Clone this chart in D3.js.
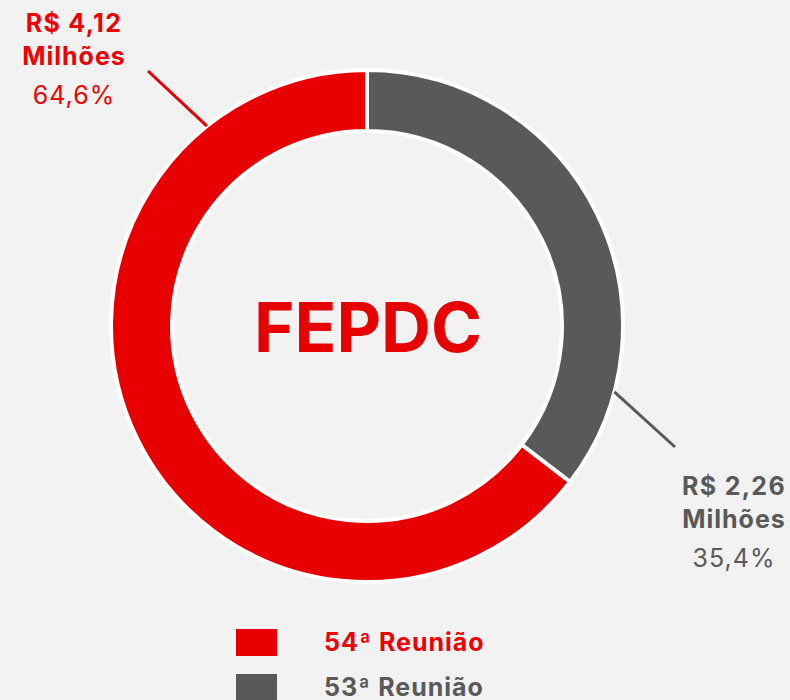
<!DOCTYPE html>
<html>
<head>
<meta charset="utf-8">
<script src="https://cdn.jsdelivr.net/npm/d3@7"></script>
<style>
  body { margin: 0; background: #f2f2f2; }
  svg { display: block; font-family: Inter, Roboto, "Noto Sans", sans-serif; }
</style>
</head>
<body>
<svg id="chart" width="790" height="700"></svg>
<script>
// slices in drawing order (clockwise from 12 o'clock)
const meetings = ["53ª Reunião", "54ª Reunião"];
const amounts  = [2.26, 4.12];          // R$ milhões
const shares   = ["35,4%", "64,6%"];
const amountLabels = ["R$ 2,26", "R$ 4,12"];
const legendOrder  = ["54ª Reunião", "53ª Reunião"];
const centerTitle  = "FEPDC";

const colors = d3.scaleOrdinal()
  .domain(meetings)
  .range(["#595959", "#e80000"]);
const textColors = d3.scaleOrdinal()
  .domain(meetings)
  .range(["#595959", "#f00000"]);

const cx = 367, cy = 326;
const outerR = 256, innerR = 195;

const svg = d3.select("#chart");
const g = svg.append("g").attr("transform", `translate(${cx},${cy})`);

const data = meetings.map((m, i) => ({ meeting: m, value: amounts[i], share: shares[i], label: amountLabels[i] }));

const pie = d3.pie().sort(null).value(d => d.value);
const arc = d3.arc().innerRadius(innerR).outerRadius(outerR);
const arcs = pie(data);

g.selectAll("path.slice")
  .data(arcs)
  .join("path")
    .attr("class", "slice")
    .attr("d", arc)
    .attr("fill", d => colors(d.data.meeting))
    .attr("stroke", "#ffffff")
    .attr("stroke-width", 4);

// centre title
g.append("text")
  .attr("x", 1).attr("y", 26)
  .attr("text-anchor", "middle")
  .attr("font-size", 69)
  .attr("font-weight", "bold")
  .attr("fill", "#e60000")
  .text(centerTitle);

// leader lines + labels (angle on the ring, outer end, label anchor)
const callouts = {
  "53ª Reunião": { angle: 104.9, end: [675 - cx, 447 - cy], text: [734 - cx, 495 - cy] },
  "54ª Reunião": { angle: 321.3, end: [148 - cx, 71 - cy],  text: [74 - cx, 32 - cy] }
};

arcs.forEach(a => {
  const c = callouts[a.data.meeting];
  const t = c.angle * Math.PI / 180;
  const x0 = outerR * Math.sin(t), y0 = -outerR * Math.cos(t);
  const col = textColors(a.data.meeting);

  g.append("line")
    .attr("x1", x0).attr("y1", y0)
    .attr("x2", c.end[0]).attr("y2", c.end[1])
    .attr("stroke", colors(a.data.meeting))
    .attr("stroke-width", 3);

  const lab = g.append("text")
    .attr("text-anchor", "middle")
    .attr("fill", col)
    .attr("font-size", 25);
  lab.append("tspan").attr("x", c.text[0]).attr("y", c.text[1])
    .attr("font-weight", "bold").attr("letter-spacing", 1.3).text(a.data.label);
  lab.append("tspan").attr("x", c.text[0]).attr("y", c.text[1] + 33)
    .attr("font-weight", "bold").attr("letter-spacing", 1).text("Milhões");
  lab.append("tspan").attr("x", c.text[0]).attr("y", c.text[1] + 72)
    .attr("letter-spacing", 1).text(a.data.share);
});

// legend
const legend = svg.append("g").attr("transform", "translate(236,629)");
const item = legend.selectAll("g")
  .data(legendOrder)
  .join("g")
    .attr("transform", (d, i) => `translate(0,${i * 45})`);
item.append("rect")
  .attr("width", 41).attr("height", 27)
  .attr("fill", d => colors(d));
item.append("text")
  .attr("x", 88).attr("y", 22)
  .attr("font-size", 25)
  .attr("font-weight", "bold")
  .attr("letter-spacing", 1)
  .attr("fill", d => textColors(d))
  .text(d => d);
</script>
</body>
</html>
